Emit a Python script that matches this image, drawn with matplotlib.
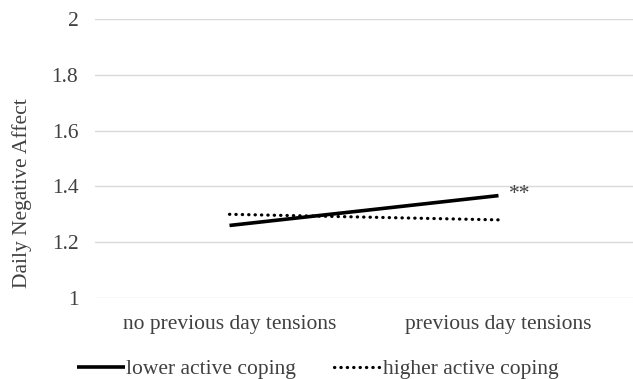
import matplotlib.pyplot as plt

plt.rcParams['font.family'] = ['Liberation Serif', 'DejaVu Serif']

conditions = ["no previous day tensions", "previous day tensions"]
lower_coping = [1.26, 1.367]
higher_coping = [1.30, 1.28]
y_ticks = [1, 1.2, 1.4, 1.6, 1.8, 2]

fs = 15.5
txt = "#404040"

fig = plt.figure(figsize=(6.33, 3.79), dpi=100)
ax = fig.add_axes([95 / 633, 81 / 379, 538 / 633, 279 / 379])

x = [0, 1]
ax.plot(x, lower_coping, color="black", lw=2.6, solid_capstyle="butt",
        label="lower active coping")
ax.plot(x, higher_coping, color="black", lw=2.3, linestyle=(0, (0.1, 1.9)),
        dash_capstyle="round", label="higher active coping")
ax.text(1.04, lower_coping[1] + 0.005, "**", fontsize=fs, color=txt,
        va="center", ha="left")

ax.set_xlim(-0.5, 1.5)
ax.set_ylim(1, 2)
ax.set_xticks(x)
ax.set_xticklabels(conditions, fontsize=fs, color=txt)
ax.set_yticks(y_ticks)
ax.set_yticklabels([f"{t:g}" for t in y_ticks], fontsize=fs, color=txt)
ax.tick_params(axis="x", length=0, pad=12)
ax.tick_params(axis="y", length=0, pad=12)
ax.grid(axis="y", color="#d9d9d9", lw=1)
ax.set_axisbelow(True)
for s in ax.spines.values():
    s.set_visible(False)
ax.set_ylabel("Daily Negative Affect", fontsize=fs, color=txt)
ax.yaxis.set_label_coords(-0.118, 0.375)

fig.legend(loc="center", bbox_to_anchor=(0.502, 0.026), ncol=2, frameon=False,
           fontsize=fs, handlelength=2.2, handletextpad=0.05, columnspacing=1.8,
           labelcolor=txt, borderpad=0)

fig.savefig("out.png", dpi=100)
